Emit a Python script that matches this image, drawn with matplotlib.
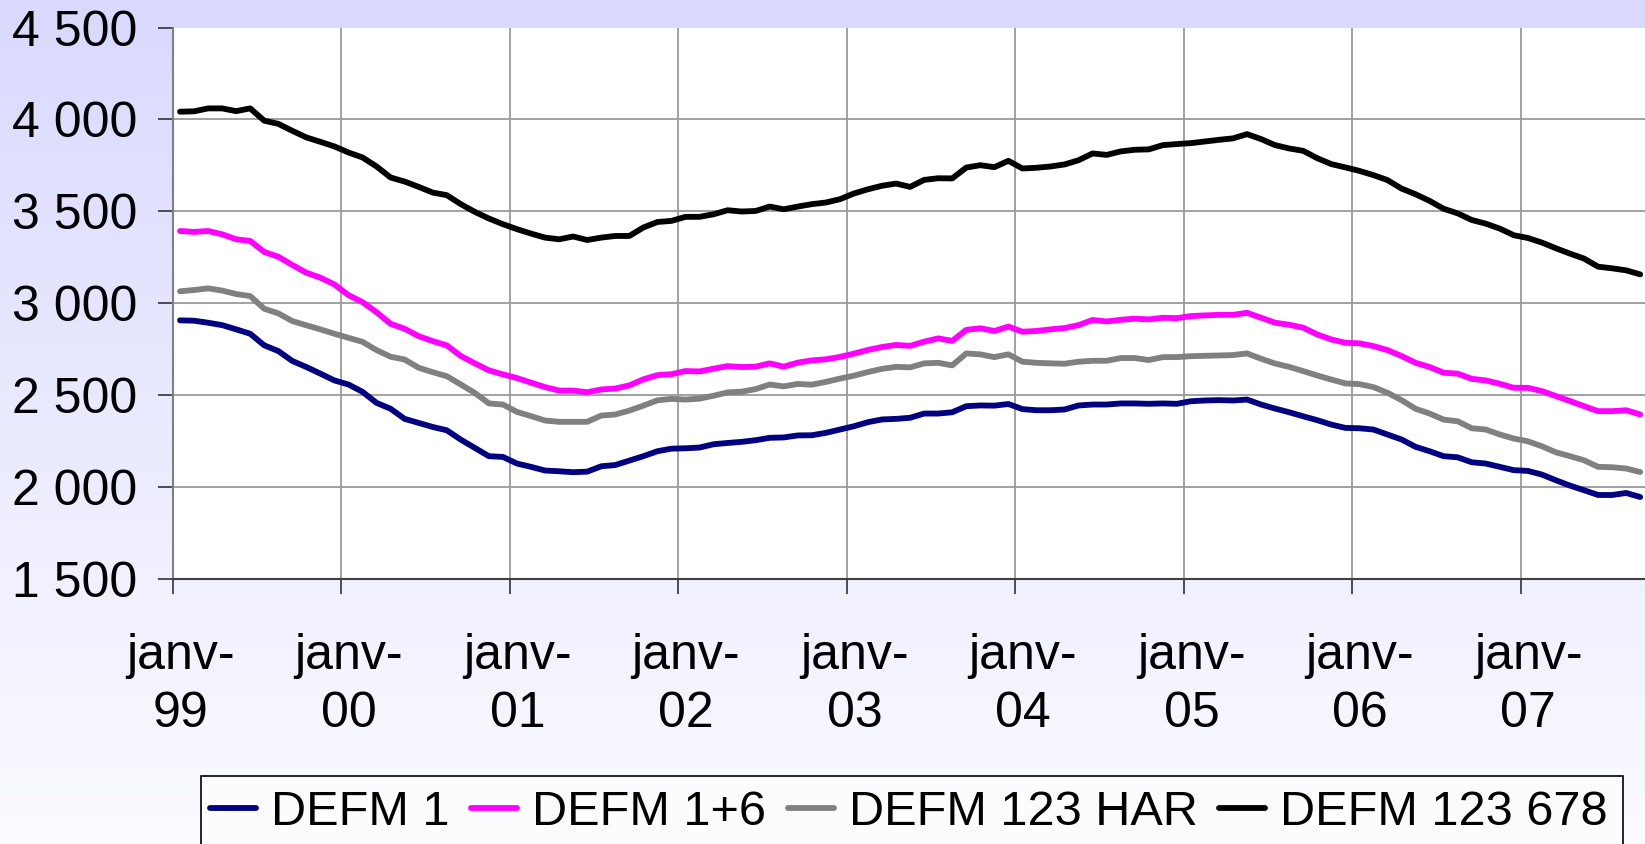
import numpy as np
import matplotlib
matplotlib.use("Agg")
import matplotlib.pyplot as plt
from matplotlib.ticker import FuncFormatter, FixedLocator
from matplotlib.patches import Rectangle

plt.rcParams['font.family'] = ['Liberation Sans', 'DejaVu Sans']

# Monthly data, Jan 1999 .. Sep 2007
defm1 = [2907, 2905, 2894, 2881, 2858, 2834, 2771, 2740, 2686, 2653, 2617, 2580,
         2558, 2518, 2458, 2426, 2371, 2349, 2327, 2309, 2258, 2213, 2168, 2164,
         2128, 2110, 2090, 2086, 2081, 2084, 2113, 2120, 2144, 2168, 2195, 2209,
         2211, 2215, 2233, 2240, 2246, 2255, 2268, 2270, 2281, 2282, 2295, 2313,
         2331, 2353, 2368, 2371, 2377, 2400, 2400, 2407, 2440, 2444, 2443, 2452,
         2424, 2418, 2418, 2422, 2444, 2449, 2449, 2455, 2455, 2453, 2455, 2453,
         2467, 2471, 2473, 2471, 2476, 2449, 2427, 2407, 2385, 2364, 2340, 2322,
         2320, 2313, 2286, 2259, 2219, 2195, 2168, 2162, 2135, 2128, 2110, 2092,
         2088, 2068, 2037, 2008, 1983, 1957, 1957, 1968, 1946]
defm16 = [3393, 3388, 3393, 3375, 3348, 3339, 3279, 3253, 3208, 3166, 3139, 3102,
          3044, 3006, 2951, 2888, 2861, 2821, 2794, 2771, 2713, 2673, 2635, 2613,
          2593, 2568, 2544, 2525, 2525, 2516, 2531, 2536, 2553, 2586, 2609, 2614,
          2631, 2629, 2644, 2658, 2653, 2655, 2673, 2655, 2677, 2689, 2695, 2708,
          2726, 2746, 2762, 2773, 2768, 2791, 2809, 2795, 2855, 2864, 2849, 2873,
          2845, 2849, 2858, 2865, 2881, 2909, 2901, 2910, 2916, 2912, 2921, 2919,
          2930, 2934, 2937, 2937, 2948, 2921, 2894, 2883, 2867, 2830, 2803, 2785,
          2782, 2767, 2745, 2713, 2676, 2653, 2622, 2617, 2589, 2580, 2562, 2540,
          2540, 2522, 2495, 2468, 2440, 2413, 2413, 2418, 2395]
defm123har = [3065, 3072, 3081, 3069, 3050, 3039, 2970, 2945, 2903, 2880, 2858, 2834,
              2812, 2790, 2745, 2709, 2694, 2649, 2625, 2603, 2558, 2512, 2455, 2449,
              2409, 2386, 2362, 2355, 2355, 2355, 2389, 2395, 2416, 2443, 2472, 2480,
              2476, 2481, 2497, 2515, 2519, 2533, 2558, 2548, 2561, 2557, 2572, 2590,
              2606, 2626, 2643, 2654, 2651, 2673, 2676, 2662, 2727, 2722, 2707, 2722,
              2682, 2676, 2673, 2671, 2682, 2687, 2687, 2702, 2702, 2691, 2707, 2707,
              2712, 2714, 2716, 2718, 2727, 2698, 2672, 2654, 2631, 2607, 2585, 2564,
              2560, 2544, 2513, 2473, 2426, 2400, 2367, 2358, 2320, 2313, 2286, 2264,
              2249, 2222, 2189, 2168, 2146, 2110, 2108, 2101, 2082]
defm123678 = [4042, 4044, 4060, 4060, 4045, 4060, 3993, 3976, 3938, 3902, 3878, 3853,
              3820, 3793, 3744, 3684, 3662, 3633, 3602, 3588, 3539, 3497, 3461, 3430,
              3403, 3379, 3357, 3348, 3363, 3344, 3357, 3366, 3366, 3412, 3442, 3448,
              3470, 3470, 3484, 3506, 3499, 3502, 3526, 3511, 3526, 3539, 3548, 3566,
              3597, 3620, 3639, 3651, 3633, 3671, 3680, 3679, 3738, 3751, 3740, 3775,
              3733, 3737, 3744, 3755, 3778, 3815, 3807, 3826, 3835, 3837, 3860, 3866,
              3871, 3880, 3889, 3897, 3920, 3893, 3860, 3842, 3829, 3789, 3757, 3739,
              3720, 3697, 3670, 3624, 3593, 3557, 3514, 3489, 3453, 3433, 3406, 3370,
              3355, 3330, 3299, 3270, 3243, 3199, 3190, 3179, 3157]

series_names = ["DEFM 1", "DEFM 1+6", "DEFM 123 HAR", "DEFM 123 678"]
series_colors = ["#000080", "#FF00FF", "#808080", "#000000"]
year_labels = ["janv-\n99", "janv-\n00", "janv-\n01", "janv-\n02", "janv-\n03",
               "janv-\n04", "janv-\n05", "janv-\n06", "janv-\n07"]
y_ticks = [1500, 2000, 2500, 3000, 3500, 4000, 4500]

W, H = 1645, 844
MONTH_PX = 14.04
fig = plt.figure(figsize=(W / 100, H / 100), dpi=100)

# background gradient
bg = fig.add_axes([0, 0, 1, 1], zorder=-10)
top = np.array([217, 217, 255]) / 255
bot = np.array([251, 251, 255]) / 255
t = np.linspace(0, 1, 256)[:, None]
grad = top[None, :] * (1 - t) + bot[None, :] * t
bg.imshow(grad[:, None, :], aspect='auto', extent=[0, 1, 0, 1], origin='upper')
bg.axis('off')

ax = fig.add_axes([173 / W, 1 - 579 / H, 1 - 173 / W, (579 - 27.5) / H])
ax.set_facecolor('white')

series = [defm1, defm16, defm123har, defm123678]
for vals, name, col in zip(series, series_names, series_colors):
    x = np.arange(len(vals)) + 0.5
    ax.plot(x, vals, color=col, lw=4.2, label=name, solid_joinstyle='round',
            solid_capstyle='round', zorder=3)

ax.set_ylim(1500, 4500)
ax.set_xlim(0, (W - 173) / MONTH_PX)
ax.yaxis.set_major_locator(FixedLocator(y_ticks))
ax.yaxis.set_major_formatter(FuncFormatter(lambda v, p: f"{v:,.0f}".replace(",", " ")))

year_pos = np.arange(len(year_labels)) * 12
# labels sit slightly right of the tick marks, as in the original
ax.set_xticks(year_pos + 7.5 / MONTH_PX)
ax.set_xticklabels(year_labels, linespacing=1.33)
ax.set_xticks(year_pos, minor=True)

for y in y_ticks[1:-1]:
    ax.axhline(y, color='#9A9A9A', lw=1.3, zorder=1)
for k in range(1, len(year_labels)):
    ax.axvline(k * 12, color='#9A9A9A', lw=1.3, zorder=1)

for s in ['top', 'right']:
    ax.spines[s].set_visible(False)
ax.spines['left'].set_color('#808080')
ax.spines['left'].set_linewidth(1.5)
ax.spines['bottom'].set_color('#404040')
ax.spines['bottom'].set_linewidth(1.5)

ax.tick_params(axis='y', direction='out', length=11, width=1.3, color='#404040',
               labelsize=36, pad=15)
ax.tick_params(axis='x', which='major', length=0, labelsize=36, pad=28 + 11)
ax.tick_params(axis='x', which='minor', direction='out', length=11, width=1.3,
               color='#404040', labelbottom=False)

# legend frame drawn manually (runs off the bottom edge)
fig.patches.append(Rectangle((201 / W, -0.05), (1623 - 201) / W, 0.05 + (844 - 776) / H,
                             transform=fig.transFigure, facecolor='#FCFCFF',
                             edgecolor='black', lw=1.2, zorder=5))
leg = fig.legend(loc='upper left', bbox_to_anchor=(210 / W, 1 - 790 / H), ncol=4,
                 fontsize=35, frameon=False, borderpad=0,
                 handlelength=0.95, handletextpad=0.3, columnspacing=0.45,
                 borderaxespad=0)
leg.set_zorder(6)
for line in leg.get_lines():
    line.set_linewidth(4.2)

fig.savefig("out.png", dpi=100)
